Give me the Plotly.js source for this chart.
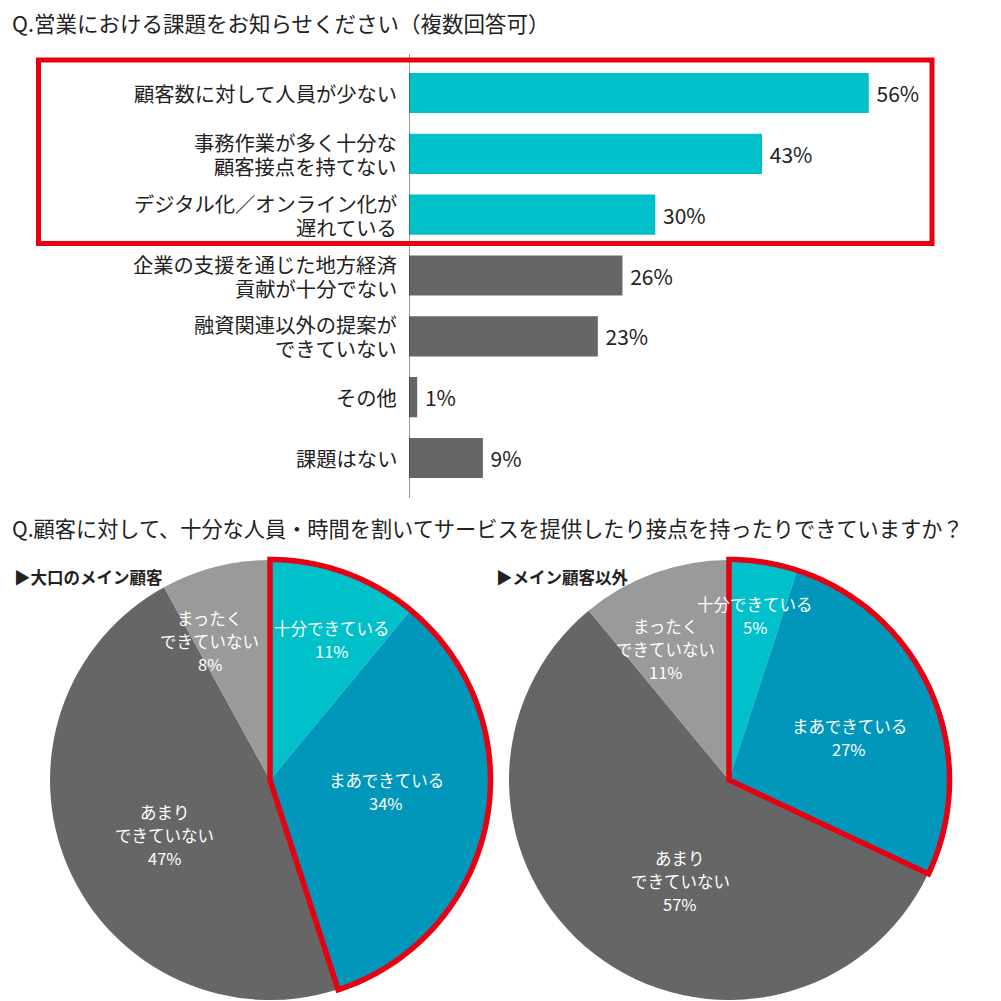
<!DOCTYPE html>
<html>
<head>
<meta charset="utf-8">
<script src="https://cdn.plot.ly/plotly-3.0.1.min.js"></script>
<style>html,body{margin:0;padding:0;background:#fff;}#chart{width:1001px;height:1001px;}</style>
</head>
<body>
<div id="chart"></div>
<script>
// ---- data ----
const barTitle = 'Q.営業における課題をお知らせください（複数回答可）';
const barCategories = [
  '顧客数に対して人員が少ない',
  '事務作業が多く十分な<br>顧客接点を持てない',
  'デジタル化／オンライン化が<br>遅れている',
  '企業の支援を通じた地方経済<br>貢献が十分でない',
  '融資関連以外の提案が<br>できていない',
  'その他',
  '課題はない'
];
const barValues = [56, 43, 30, 26, 23, 1, 9];
const highlightedCount = 3;

const pieTitle = 'Q.顧客に対して、十分な人員・時間を割いてサービスを提供したり接点を持ったりできていますか？';
const pieLabels = ['十分できている', 'まあできている', 'あまり<br>できていない', 'まったく<br>できていない'];
const pieMainName = '▶大口のメイン顧客';
const pieMainValues = [11, 34, 47, 8];
const pieOtherName = '▶メイン顧客以外';
const pieOtherValues = [5, 27, 57, 11];
const pieHighlightedSlices = 2;

// ---- style ----
const W = 1001, H = 1001;
const FONT = '"Noto Sans CJK JP", "Noto Sans", sans-serif';
const TEAL = '#00C1C9', BLUE = '#0097BA', DARK = '#666666', LIGHT = '#9A9A9A', RED = '#E60012', INK = '#222222';
const px = x => x / W;
const py = y => 1 - y / H;

const pieMainBox = {x0: 50, x1: 490, y0: 560, y1: 1000};
const pieOtherBox = {x0: 509, x1: 949, y0: 560, y1: 1000};
// label placement (style): radial fraction and angle nudge from slice mid (deg)
const labelRadiusMain = [0.70, 0.53, 0.54, 0.69];
const labelNudgeMain = [4, -5, -4, -9];
const labelRadiusOther = [0.755, 0.58, 0.51, 0.66];
const labelNudgeOther = [0, 4, -12, -6];
const labelLineGap = 23;
const tickLineGap = 24;

const traces = [];
traces.push({
  type: 'bar', orientation: 'h',
  x: barValues, y: barCategories,
  xaxis: 'x', yaxis: 'y',
  marker: {color: barValues.map((v, i) => i < highlightedCount ? TEAL : DARK)},
  width: 0.66,
  text: barValues.map(v => ' ' + v + '%'),
  textposition: 'outside',
  textfont: {family: FONT, size: 21, color: INK},
  cliponaxis: false,
  hoverinfo: 'skip', showlegend: false
});

function pieTrace(values, box) {
  return {
    type: 'pie', values: values, labels: pieLabels,
    domain: {x: [px(box.x0), px(box.x1)], y: [py(box.y1), py(box.y0)]},
    sort: false, direction: 'clockwise', rotation: 0,
    textinfo: 'none', hoverinfo: 'skip', showlegend: false,
    marker: {colors: [TEAL, BLUE, DARK, LIGHT], line: {width: 0}}
  };
}
traces.push(pieTrace(pieMainValues, pieMainBox));
traces.push(pieTrace(pieOtherValues, pieOtherBox));

const shapes = [];
const annotations = [];

// axis line
shapes.push({type: 'line', xref: 'x', yref: 'paper', x0: 0, x1: 0, y0: py(498), y1: py(54), line: {color: '#333', width: 1}});
// red box around highlighted bars
shapes.push({type: 'rect', xref: 'paper', yref: 'paper', x0: px(38.5), x1: px(932), y0: py(243.5), y1: py(60), line: {color: RED, width: 5}});

// category labels (one annotation per line, anchored to the category axis)
barCategories.forEach(cat => {
  const lines = cat.split('<br>');
  lines.forEach((t, j) => {
    annotations.push({
      xref: 'paper', yref: 'y', x: px(398), y: cat,
      xanchor: 'right', yanchor: 'middle', showarrow: false, borderpad: 0,
      yshift: -(j - (lines.length - 1) / 2) * tickLineGap,
      text: t, font: {family: FONT, size: 20.3, color: INK}
    });
  });
});

function pieGeometry(box) {
  const cx = (box.x0 + box.x1) / 2, cy = (box.y0 + box.y1) / 2;
  const r = Math.min(box.x1 - box.x0, box.y1 - box.y0) / 2;
  return {cx, cy, r};
}

function addPieExtras(values, box, radii, nudges) {
  const g = pieGeometry(box);
  const total = values.reduce((a, b) => a + b, 0);
  // red outline around highlighted slices
  let frac = 0;
  for (let i = 0; i < pieHighlightedSlices; i++) frac += values[i] / total;
  const ro = g.r + 0.5;
  let d = `M ${px(g.cx)} ${py(g.cy)} L ${px(g.cx)} ${py(g.cy - ro)}`;
  const n = 120;
  for (let k = 1; k <= n; k++) {
    const a = 2 * Math.PI * frac * k / n;
    d += ` L ${px(g.cx + ro * Math.sin(a))} ${py(g.cy - ro * Math.cos(a))}`;
  }
  d += ' Z';
  shapes.push({type: 'path', xref: 'paper', yref: 'paper', path: d, line: {color: RED, width: 5.5}, fillcolor: 'rgba(0,0,0,0)'});
  // labels, one annotation per line
  let cum = 0;
  values.forEach((v, i) => {
    const mid = (cum + v / 2) / total * 360 + nudges[i];
    cum += v;
    const a = mid * Math.PI / 180;
    const rr = g.r * radii[i];
    const lx = g.cx + rr * Math.sin(a), ly = g.cy - rr * Math.cos(a);
    const lines = pieLabels[i].split('<br>').concat([v + '%']);
    lines.forEach((t, j) => {
      annotations.push({
        xref: 'paper', yref: 'paper',
        x: px(lx), y: py(ly + (j - (lines.length - 1) / 2) * labelLineGap),
        xanchor: 'center', yanchor: 'middle', showarrow: false, align: 'center', borderpad: 0,
        text: t,
        font: {family: FONT, size: 16.5, color: '#ffffff'}
      });
    });
  });
}
addPieExtras(pieMainValues, pieMainBox, labelRadiusMain, labelNudgeMain);
addPieExtras(pieOtherValues, pieOtherBox, labelRadiusOther, labelNudgeOther);

// titles
annotations.push({xref: 'paper', yref: 'paper', x: px(10), y: py(22), xanchor: 'left', yanchor: 'middle', showarrow: false,
  text: barTitle, font: {family: FONT, size: 21.5, color: INK}});
annotations.push({xref: 'paper', yref: 'paper', x: px(10), y: py(527), xanchor: 'left', yanchor: 'middle', showarrow: false,
  text: pieTitle, font: {family: FONT, size: 21.2, color: INK}});
annotations.push({xref: 'paper', yref: 'paper', x: px(12), y: py(577), xanchor: 'left', yanchor: 'middle', showarrow: false,
  text: '<b>' + pieMainName + '</b>', font: {family: FONT, size: 16.5, color: INK}});
annotations.push({xref: 'paper', yref: 'paper', x: px(494), y: py(577), xanchor: 'left', yanchor: 'middle', showarrow: false,
  text: '<b>' + pieOtherName + '</b>', font: {family: FONT, size: 16.5, color: INK}});

const layout = {
  width: W, height: H,
  margin: {l: 0, r: 0, t: 0, b: 0},
  paper_bgcolor: '#ffffff', plot_bgcolor: 'rgba(0,0,0,0)',
  font: {family: FONT, color: INK},
  xaxis: {domain: [px(409), 1], range: [0, (W - 409) / 8.21], visible: false, fixedrange: true},
  yaxis: {domain: [py(488.4), py(62.6)], type: 'category', autorange: 'reversed',
    showline: false, showgrid: false, zeroline: false, ticks: '', showticklabels: false, fixedrange: true},
  shapes: shapes,
  annotations: annotations
};

Plotly.newPlot('chart', traces, layout, {displayModeBar: false, staticPlot: true});
</script>
</body>
</html>
